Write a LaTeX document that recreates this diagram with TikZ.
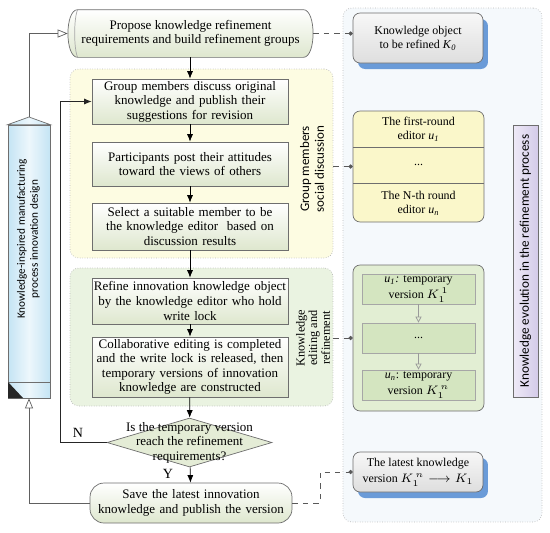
\documentclass[tikz,border=0pt]{standalone}
\usepackage{fontspec}
\setmainfont{Liberation Serif}
\newfontfamily\calfont{Carlito}
\usetikzlibrary{arrows.meta,shapes.geometric,shadows}

\definecolor{cprocbot}{RGB}{222,231,206}
\definecolor{cyelzone}{RGB}{253,252,226}
\definecolor{cgrnzone}{RGB}{234,243,225}
\definecolor{cpanel}{RGB}{245,249,252}
\definecolor{cylist}{RGB}{250,247,202}
\definecolor{cglist}{RGB}{226,238,211}
\definecolor{cginner}{RGB}{212,229,192}
\definecolor{cshadow}{RGB}{106,155,216}
\definecolor{cgreyt}{RGB}{247,247,247}
\definecolor{cgreyb}{RGB}{222,222,222}
\definecolor{cpurl}{RGB}{238,234,247}
\definecolor{cpurr}{RGB}{212,203,233}
\definecolor{cblue}{RGB}{196,228,244}
\definecolor{cdec}{RGB}{228,236,214}
\definecolor{cedge}{RGB}{110,110,110}

\newcommand{\lfont}{\fontsize{7.4}{8.3}\selectfont}
\newcommand{\rfont}{\fontsize{6.8}{8.1}\selectfont}
\newcommand{\vfont}{\fontsize{6.8}{9.4}\selectfont}
\newcommand{\efont}{\fontsize{7}{7.2}\selectfont}

\begin{document}
\begin{tikzpicture}[x=0.02cm, y=-0.02cm, >={Latex[length=1.5mm,width=1.2mm]},
	proc/.style={draw=cedge, top color=white, bottom color=cprocbot, minimum width=3.92cm, text width=3.92cm, align=center, inner sep=0pt, font=\lfont},
	zone/.style={draw=gray!55, densely dotted, rounded corners=5pt},
	rbox/.style={draw=cedge, rounded corners=4pt, top color=cgreyt, bottom color=cgreyb, minimum width=2.6cm, align=center, inner sep=0pt, font=\rfont, drop shadow={shadow xshift=0.1cm, shadow yshift=-0.12cm, fill=cshadow, opacity=1}},
	rtext/.style={align=center, font=\rfont, inner sep=0pt},
	verbox/.style={draw=gray!70, fill=cginner, minimum width=2.26cm, minimum height=0.6cm, align=center, font=\vfont, inner sep=0pt},
	backline/.style={draw=gray!75!black, -{Triangle[open,length=2mm,width=1.6mm]}},
	dashlink/.style={dashed, draw=gray!70!black, -{Circle[length=2.4pt]}},
	smallopen/.style={draw=gray!80, -{Triangle[open,length=1.2mm,width=1.2mm]}},
	vlab/.style={rotate=90, align=center, inner sep=0pt}]
	\useasboundingbox (0,0) rectangle (550,532);
	\node[zone, fill=cpanel, minimum width=3.98cm, minimum height=10.28cm] (panel) at (442.5,265) {};
	\node[zone, fill=cyelzone, minimum width=5.26cm, minimum height=3.78cm] (ysoc) at (201.5,163.5) {};
	\node[zone, fill=cgrnzone, minimum width=5.26cm, minimum height=2.76cm] (gedit) at (201.5,337) {};
	\node[minimum width=4.5cm, minimum height=0.94cm, inner sep=0pt] (cyl) at (190.5,33.5) {};
	\path[draw=cedge, top color=white, bottom color=cprocbot] (cyl.north west) -- (cyl.north east) .. controls +(13,0) and +(13,0) .. (cyl.south east) -- (cyl.south west) .. controls +(-13,0) and +(-13,0) .. (cyl.north west);
	\draw[cedge!60] (cyl.north west) .. controls +(-4,8) and +(-4,-8) .. (cyl.south west);
	\node[align=center, font=\lfont, inner sep=0pt] (cyltext) at (cyl.center) {Propose knowledge refinement\\requirements and build refinement groups};
	\coordinate (cylw) at ([xshift=-0.2cm]cyl.west);
	\coordinate (cyle) at ([xshift=0.2cm]cyl.east);
	\node[proc, minimum height=0.9cm] (b1) at (190,101.5) {Group members discuss original\\knowledge and publish their\\suggestions for revision};
	\node[proc, minimum height=0.88cm] (b2) at (190,164) {Participants post their attitudes\\toward the views of others};
	\node[proc, minimum height=0.94cm] (b3) at (190,226.5) {Select a suitable member to be\\the knowledge editor\ \ based on\\discussion results};
	\node[proc, minimum height=0.92cm] (b4) at (190,301) {Refine innovation knowledge object\\by the knowledge editor who hold\\write lock};
	\node[proc, minimum height=1.2cm] (b5) at (190,367) {Collaborative editing is completed\\and the write lock is released, then\\temporary versions of innovation\\knowledge are constructed};
	\node[diamond, draw=cedge, fill=cdec, minimum width=3.3cm, minimum height=0.98cm, inner sep=0pt] (dec) at (189.5,442.5) {};
	\node[align=center, font=\lfont, inner sep=0pt] (dectext) at (dec.center) {Is the temporary version\\reach the refinement\\requirements?};
	\node[proc, rounded corners=8pt, minimum width=4.04cm, minimum height=0.8cm, text width=3.9cm] (save) at (191,503) {Save the latest innovation\\knowledge and publish the version};
	\node[font=\fontsize{8}{9}\selectfont] (nlab) at (78,433) {N};
	\node[font=\fontsize{8}{9}\selectfont] (ylab) at (168,474) {Y};
	\node[vlab, font=\calfont\fontsize{7.4}{8.4}\selectfont] (glab) at (312,169) {Group members\\social discussion};
	\node[vlab, font=\efont] (elab) at (313,338) {Knowledge\\editing and\\refinement};
	\coordinate (lefttop) at (29,117);
	\node[draw=cedge, left color=cblue, right color=cblue, middle color=cblue!30, minimum width=0.84cm, minimum height=5.46cm, inner sep=0pt] (leftbox) at (29,261.5) {};
	\path[draw=cedge, left color=cblue, right color=cblue, middle color=cblue!30] (leftbox.north west) -- (lefttop) -- (leftbox.north east) -- cycle;
	\draw[cedge] (8,382) -- (50,382);
	\fill[black!85] (8,382) -- (8,398) -- (23,398) -- cycle;
	\node[vlab, font=\calfont\fontsize{6.4}{7.4}\selectfont] (lefttxt) at (28.5,239) {Knowledge-inspired manufacturing\\process innovation design};
	\node[draw=cedge, left color=cpurl, right color=cpurr, minimum width=0.5cm, minimum height=5.44cm, inner sep=0pt] (purbox) at (525.5,261) {};
	\node[vlab, font=\calfont\fontsize{7.5}{8.5}\selectfont] (purtxt) at (purbox.center) {Knowledge evolution in the refinement process};
	\node[rbox, minimum height=1.0cm] (k0) at (418,38) {Knowledge object\\to be refined \textit{K}\textsubscript{\textit{0}}};
	\node[draw=cedge, fill=cylist, rounded corners=4pt, minimum width=2.62cm, minimum height=2.22cm] (edlist) at (418.5,166.5) {};
	\draw[cedge] (353,147) -- (484,147);
	\draw[cedge] (353,183) -- (484,183);
	\node[rtext] (ed1) at (418.5,129) {The first-round\\editor \textit{u}\textsubscript{\textit{1}}};
	\node[rtext] (ed2) at (418.5,165) {...};
	\node[rtext] (ed3) at (418.5,203) {The N-th round\\editor \textit{u}\textsubscript{\textit{n}}};
	\node[draw=cedge, fill=cglist, rounded corners=4pt, minimum width=2.62cm, minimum height=2.92cm] (verlist) at (418.5,338) {};
	\node[verbox] (v1) at (418.5,289) {\textit{u}\textsubscript{\textit{1}}\textit{:} temporary\\version $K_1^{\,1}$};
	\node[verbox] (v2) at (418.5,338) {...};
	\node[verbox] (v3) at (418.5,385) {\textit{u}\textsubscript{\textit{n}}: temporary\\version $K_1^{\,n}$};
	\node[rbox, minimum height=0.8cm, font=\vfont] (latest) at (418,472) {The latest knowledge\\version $K_1^{\,n}\longrightarrow K_1$};
	\coordinate (nx) at (60,0);
	\coordinate (dx) at (320,0);
	\draw[->] (b1.north |- cyl.south) -- (b1.north);
	\draw[->] (b1) -- (b2);
	\draw[->] (b2) -- (b3);
	\draw[->] (b3) -- (b4);
	\draw[->] (b4) -- (b5);
	\draw[->] (b5) -- (dec);
	\draw[->] (dec) -- (save);
	\draw[->, gray!30!black] (dec.west) -- (dec.west -| nx) |- (b1.west);
	\draw[backline] (save.west) -| (leftbox.south);
	\draw[backline] (lefttop) |- (cylw);
	\draw[smallopen] (v1) -- (v2);
	\draw[smallopen] (v2) -- (v3);
	\draw[dashlink] (cyle) -- (cyle -| k0.west);
	\draw[dashlink] (ysoc.east |- edlist.west) -- (edlist.west);
	\draw[dashlink] (gedit.east |- verlist.west) -- (verlist.west);
	\draw[dashlink] (save.east) -- (save.east -| dx) |- (latest.west);
\end{tikzpicture}
\end{document}
